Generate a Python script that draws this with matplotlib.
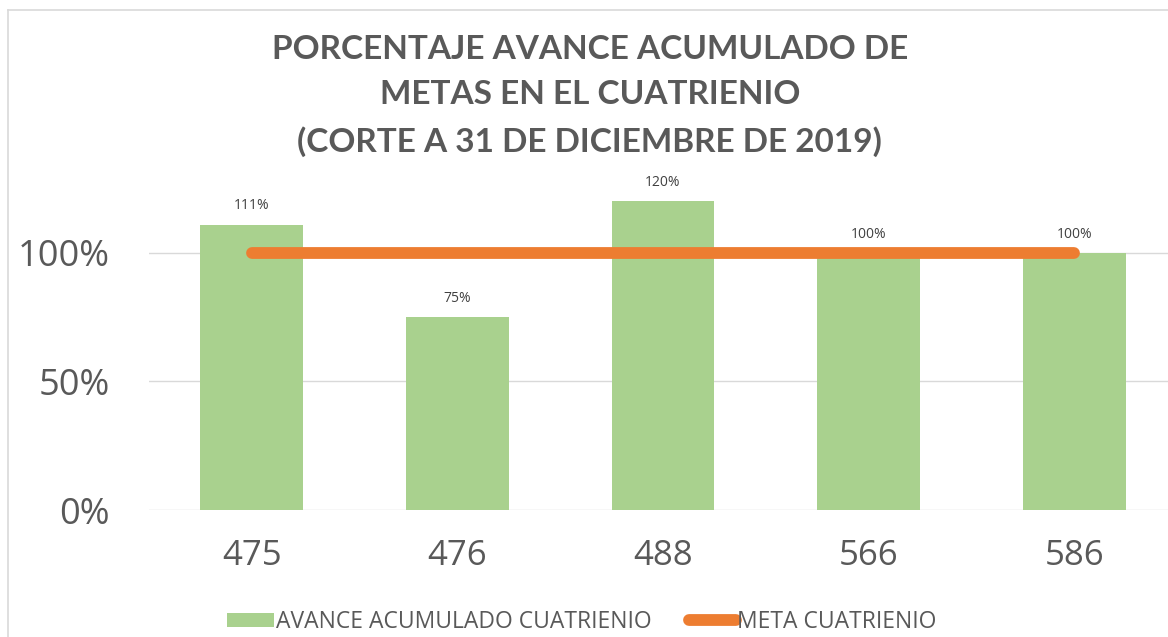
import matplotlib.pyplot as plt
from matplotlib.lines import Line2D
from matplotlib.patches import Patch

# Datos
metas = ['475', '476', '488', '566', '586']
avance = [1.11, 0.75, 1.20, 1.00, 1.00]
meta_cuatrienio = [1.00, 1.00, 1.00, 1.00, 1.00]
etiquetas = ['111%', '75%', '120%', '100%', '100%']

verde = '#A9D18E'
naranja = '#ED7D31'
gris_texto = '#595959'

plt.rcParams['font.family'] = ['Open Sans', 'DejaVu Sans']

fig = plt.figure(figsize=(11.68, 6.37), dpi=100)
ax = fig.add_axes([149 / 1168, 1 - 510 / 637, 1028 / 1168, 360 / 637])

x = list(range(len(metas)))
ax.bar(x, avance, width=0.5, color=verde, zorder=2)
ax.plot(x, meta_cuatrienio, color=naranja, lw=8.5, solid_capstyle='round', zorder=3)

for xi, v, lab in zip(x, avance, etiquetas):
    ax.annotate(lab, (xi, v), xytext=(0, 8), textcoords='offset points',
                ha='center', va='bottom', fontsize=10, color='#404040')

ax.set_xlim(-0.5, len(metas) - 0.5)
ax.set_ylim(0, 1.4)
ax.set_yticks([0, 0.5, 1.0])
ax.set_yticklabels(['0%', '50%', '100%'])
ax.set_xticks(x)
ax.set_xticklabels(metas)
ax.tick_params(axis='both', length=0, labelsize=26, colors=gris_texto)
ax.tick_params(axis='y', pad=28)
ax.tick_params(axis='x', labelsize=25, pad=21)
ax.grid(axis='y', color='#D9D9D9', lw=1, zorder=0)
for s in ax.spines.values():
    s.set_visible(False)

fig.text(0.505, 1 - 96 / 637,
         'PORCENTAJE AVANCE ACUMULADO DE\nMETAS EN EL CUATRIENIO\n(CORTE A 31 DE DICIEMBRE DE 2019)',
         ha='center', va='center', fontsize=24, fontweight='bold', color=gris_texto,
         family=['Lato', 'DejaVu Sans'], linespacing=1.65)

# marco del grafico
fig.add_artist(Line2D([8 / 1168, 8 / 1168], [0, 1 - 10 / 637], color='#D9D9D9', lw=1.2))
fig.add_artist(Line2D([8 / 1168, 1], [1 - 10 / 637, 1 - 10 / 637], color='#D9D9D9', lw=1.2))

handles = [Patch(facecolor=verde, edgecolor='none'),
           Line2D([0], [0], color=naranja, lw=8.5, solid_capstyle='round')]
fig.legend(handles, ['AVANCE ACUMULADO CUATRIENIO', 'META CUATRIENIO'],
           loc='center', bbox_to_anchor=(582 / 1168, 1 - 622 / 637), ncol=2, frameon=False,
           fontsize=16.5, labelcolor=gris_texto, handlelength=2.05, handleheight=0.57,
           handletextpad=0.05, columnspacing=1.65)

fig.savefig('out.png', dpi=100)
